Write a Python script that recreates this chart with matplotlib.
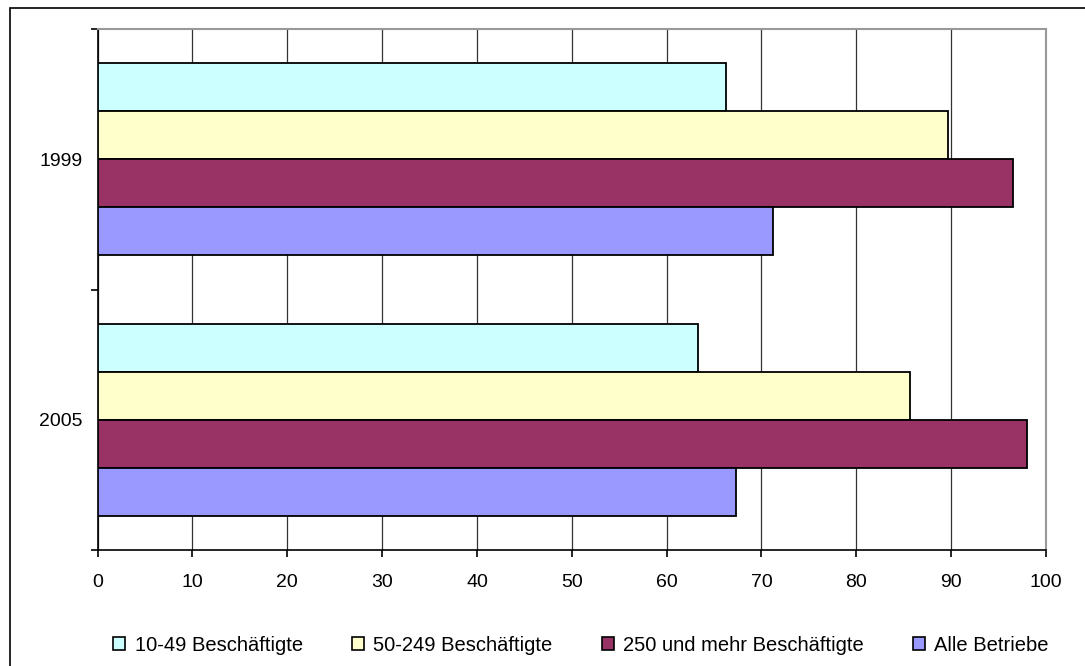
import numpy as np
import matplotlib.pyplot as plt
from matplotlib.patches import Patch, Rectangle

plt.rcParams['font.family'] = ['Liberation Sans', 'DejaVu Sans']

# data
years = ['2005', '1999']
series = ['10-49 Beschäftigte', '50-249 Beschäftigte',
          '250 und mehr Beschäftigte', 'Alle Betriebe']
small = [63.3, 66.3]
medium = [85.7, 89.7]
large = [98.0, 96.5]
all_firms = [67.3, 71.2]
colors = ['#CCFFFF', '#FFFFCC', '#993366', '#9999FF']

values = [small, medium, large, all_firms]

fig = plt.figure(figsize=(10.85, 6.66), dpi=100)
ax = fig.add_axes([0.090, 0.1737, 0.874, 0.7828])

# outer chart frame (left/top visible, runs off the right and bottom)
fig.patches.append(Rectangle((10 / 1085, -0.05), 1.1, 1 - 8 / 666 + 0.05,
                             transform=fig.transFigure, fill=False,
                             edgecolor='black', linewidth=1.2))

y = np.arange(len(years))
h = 0.184
offsets = [1.5 * h, 0.5 * h, -0.5 * h, -1.5 * h]
for vals, col, off, name in zip(values, colors, offsets, series):
    ax.barh(y + off, vals, height=h, color=col, edgecolor='black',
            linewidth=1.3, label=name, zorder=3)

ax.set_xlim(0, 100)
ax.set_ylim(-0.5, 1.5)
ax.set_xticks(np.arange(0, 101, 10))
ax.set_yticks(y)
ax.set_yticklabels(years)
ax.set_yticks([-0.5, 0.5, 1.5], minor=True)
ax.tick_params(axis='y', which='major', length=0, pad=11, labelsize=14)
ax.tick_params(axis='y', which='minor', length=5, width=1.2, direction='out')
ax.tick_params(axis='x', length=5, width=1.2, direction='out', pad=12, labelsize=14)

ax.grid(axis='x', color='#333333', linewidth=0.9, zorder=0)
ax.spines['top'].set_color('#999999')
ax.spines['right'].set_color('#999999')
ax.spines['top'].set_linewidth(1.5)
ax.spines['right'].set_linewidth(1.5)
ax.spines['left'].set_color('black')
ax.spines['bottom'].set_color('black')
ax.spines['left'].set_linewidth(1.2)
ax.spines['bottom'].set_linewidth(1.2)

handles = [Patch(facecolor=c, edgecolor='black', linewidth=1.2) for c in colors]
fig.legend(handles, series, loc='center', bbox_to_anchor=(0.5355, 0.0315),
           ncol=4, frameon=False, fontsize=14.5, handlelength=0.6,
           handleheight=0.6, handletextpad=0.45, columnspacing=2.45)

fig.savefig('out.png', dpi=100)
